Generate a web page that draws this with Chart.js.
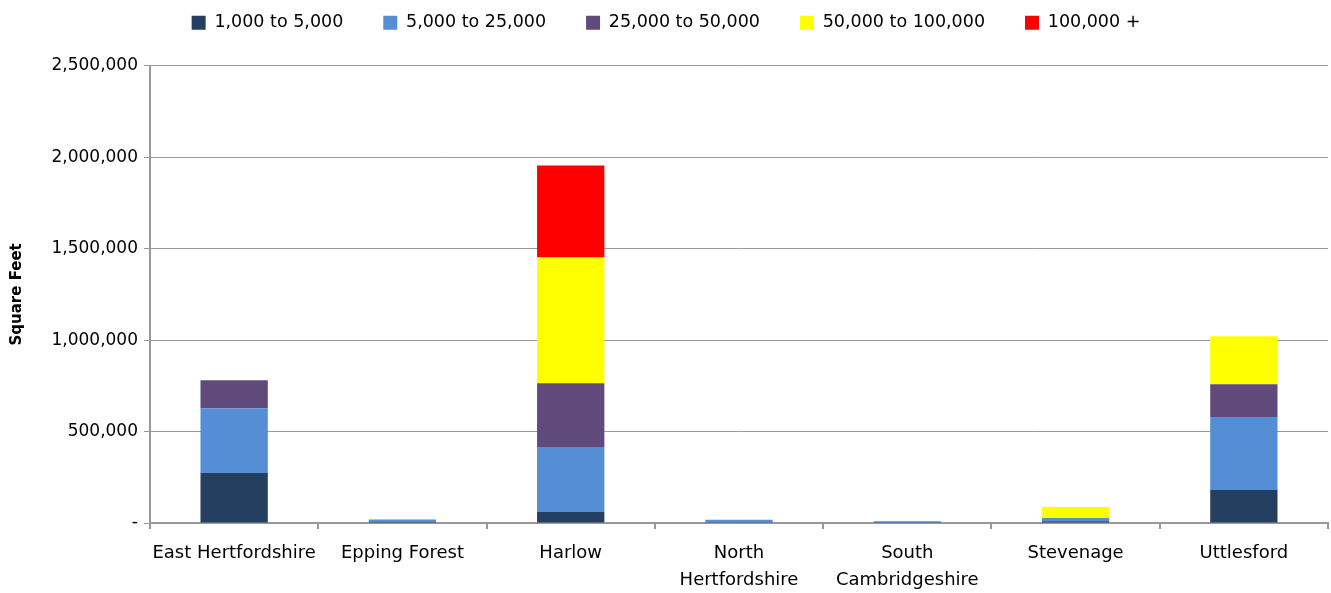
<!DOCTYPE html>
<html>
<head>
<meta charset="utf-8">
<script src="https://cdn.jsdelivr.net/npm/chart.js@4"></script>
<style>
  html, body { margin: 0; padding: 0; background: #fff; }
  #wrap { width: 1331px; height: 593px; position: relative; }
</style>
</head>
<body>
<div id="wrap"><canvas id="chart"></canvas></div>
<script>
// Districts along the x axis
const districts = [
	'East Hertfordshire',
	'Epping Forest',
	'Harlow',
	['North', 'Hertfordshire'],
	['South', 'Cambridgeshire'],
	'Stevenage',
	'Uttlesford',
];

// Square feet per size band
const band1k5k = [273000, 5000, 60000, 2000, 1000, 10000, 180000];
const band5k25k = [355000, 14000, 355000, 16000, 8000, 18000, 399000];
const band25k50k = [153000, 0, 349000, 0, 0, 0, 180000];
const band50k100k = [0, 0, 688000, 0, 0, 60000, 262000];
const band100kPlus = [0, 0, 502000, 0, 0, 0, 0];

const yTicks = [0, 500000, 1000000, 1500000, 2000000, 2500000];

const font = "'DejaVu Sans', Verdana, sans-serif";

const ctx = document.getElementById('chart').getContext('2d');
new Chart(ctx, {
	type: 'bar',
	data: {
		labels: districts,
		datasets: [
			{ label: '1,000 to 5,000', data: band1k5k, backgroundColor: '#243F60' },
			{ label: '5,000 to 25,000', data: band5k25k, backgroundColor: '#558ED5' },
			{ label: '25,000 to 50,000', data: band25k50k, backgroundColor: '#604A7B' },
			{ label: '50,000 to 100,000', data: band50k100k, backgroundColor: '#FFFF00' },
			{ label: '100,000 +', data: band100kPlus, backgroundColor: '#FF0000' },
		],
	},
	options: {
		responsive: true,
		maintainAspectRatio: false,
		animation: false,
		barPercentage: 0.4,
		categoryPercentage: 1,
		layout: { padding: { left: 4, right: 3, top: -26, bottom: 4 } },
		plugins: {
			legend: {
				position: 'top',
				labels: {
					boxWidth: 14,
					boxHeight: 14,
					padding: 40,
					color: '#000',
					font: { family: font, size: 17.5 },
				},
			},
			// empty spacer between the legend and the plot
			subtitle: {
				display: true,
				text: ' ',
				weight: 500,
				font: { size: 1 },
				padding: { top: 0, bottom: 23 },
			},
			tooltip: { enabled: false },
		},
		scales: {
			x: {
				stacked: true,
				afterFit: (axis) => {
					axis.height = 66;
				},
				border: { color: '#999', width: 2 },
				grid: {
					drawOnChartArea: false,
					drawTicks: true,
					tickLength: 6,
					color: '#999',
					lineWidth: 2,
				},
				ticks: {
					color: '#000',
					maxRotation: 0,
					padding: 11,
					font: { family: font, size: 18, lineHeight: 1.5 },
				},
			},
			y: {
				stacked: true,
				min: 0,
				max: 2500000,
				afterBuildTicks: (axis) => {
					axis.ticks = yTicks.map((v) => ({ value: v }));
				},
				afterFit: (axis) => {
					axis.width = 146;
				},
				border: { color: '#999', width: 2 },
				grid: { color: '#999', lineWidth: 1, tickLength: 6 },
				title: {
					display: true,
					text: 'Square Feet',
					color: '#000',
					font: { family: font, size: 15, weight: 'bold' },
				},
				ticks: {
					color: '#000',
					padding: 6,
					font: { family: font, size: 17 },
					callback: (v) => (v === 0 ? '-' : v.toLocaleString('en-US')),
				},
			},
		},
	},
});
</script>
</body>
</html>
